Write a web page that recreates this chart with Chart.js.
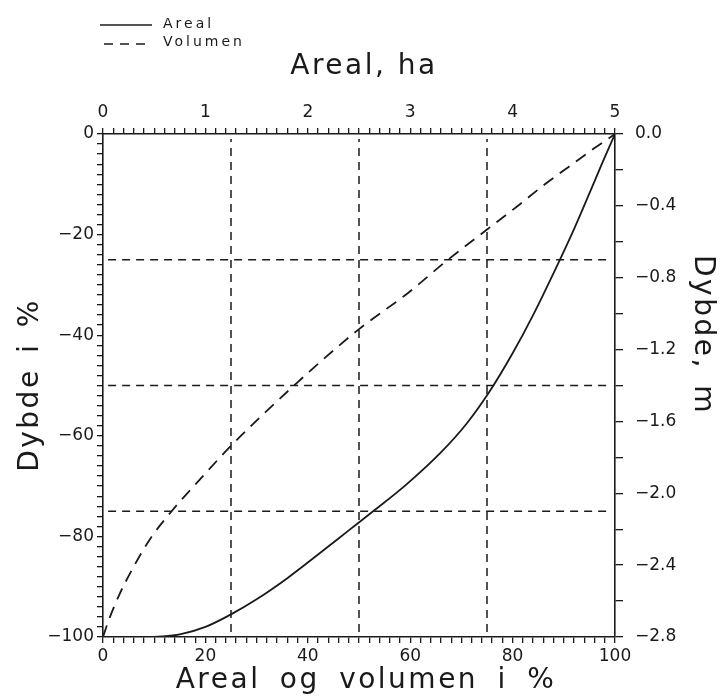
<!DOCTYPE html>
<html>
<head>
<meta charset="utf-8">
<script src="https://cdn.jsdelivr.net/npm/chart.js@4/dist/chart.umd.min.js"></script>
<style>
  body { margin: 0; background: #fff; }
  #wrap { width: 726px; height: 698px; }
</style>
</head>
<body>
<div id="wrap"><canvas id="chart" width="726" height="698"></canvas></div>
<script>
// ====== data ======
// Areal (solid) : % of area vs depth in %
const arealX = [10, 15, 20, 25, 30, 36, 42, 48, 53, 59, 66, 71, 75.5, 80, 84, 89, 92, 95, 97.5, 100];
const arealY = [-100, -99.5, -98, -95.5, -92.5, -88.3, -83.6, -78.8, -74.8, -69.9, -63.3, -57.6, -51.2, -43.6, -36, -25.5, -18.9, -11.8, -5.8, 0];

// Volumen (dashed)
const volumenX = [0, 1, 3, 6, 9.2, 13.4, 18.9, 25, 31, 37, 43, 50, 59.7, 67, 75, 81, 86.3, 91, 96, 100];
const volumenY = [-100, -97, -92, -86, -80.5, -75, -68.7, -62, -56, -50.3, -44.8, -38.8, -31.5, -25.3, -19, -14.3, -10, -6.5, -2.8, 0];

// dashed reference lines (percent)
const guideX = [25, 50, 75];
const guideY = [-25, -50, -75];

// labelled ticks
const pctLabels = [0, 20, 40, 60, 80, 100];
const haLabels = [0, 1, 2, 3, 4, 5];
const depthPctLabels = [0, -20, -40, -60, -80, -100];
const depthMLabels = [0, -0.4, -0.8, -1.2, -1.6, -2.0, -2.4, -2.8];

const INK = "#1a1a1a";
const FONT = "'DejaVu Sans', 'Liberation Sans', sans-serif";

function pairs(xs, ys) {
  return xs.map((x, i) => ({ x, y: ys[i] }));
}
function isIn(list, v) {
  return list.some((l) => Math.abs(l - v) < 1e-6);
}
function minus(s) {
  return String(s).replace("-", "\u2212");
}

// ====== datasets ======
const datasets = [
  {
    label: "Areal",
    data: pairs(arealX, arealY),
    borderColor: INK,
    borderWidth: 1.8,
    pointRadius: 0,
    cubicInterpolationMode: "monotone",
    fill: false,
  },
  {
    label: "Volumen",
    data: pairs(volumenX, volumenY),
    borderColor: INK,
    borderWidth: 1.8,
    borderDash: [12, 8],
    pointRadius: 0,
    cubicInterpolationMode: "monotone",
    fill: false,
  },
];
guideX.forEach((gx) => {
  datasets.push({
    label: "guide",
    data: [{ x: gx, y: -99 }, { x: gx, y: -1 }],
    borderColor: INK, borderWidth: 1.5, borderDash: [8, 6], pointRadius: 0,
  });
});
guideY.forEach((gy) => {
  datasets.push({
    label: "guide",
    data: [{ x: 1, y: gy }, { x: 99, y: gy }],
    borderColor: INK, borderWidth: 1.5, borderDash: [8, 6], pointRadius: 0,
  });
});

// ====== legend + axis titles (spaced lettering) ======
function spacedText(ctx, text, x, y, rot, size, spacing, wordGap) {
  ctx.save();
  ctx.translate(x, y);
  ctx.rotate(rot);
  ctx.font = size + "px " + FONT;
  ctx.letterSpacing = spacing + "px";
  ctx.wordSpacing = wordGap + "px";
  ctx.textAlign = "center";
  ctx.textBaseline = "middle";
  ctx.fillText(text, 0, 0);
  ctx.restore();
}

const extras = {
  id: "extras",
  afterDraw(chart) {
    const ctx = chart.ctx;
    ctx.save();
    ctx.strokeStyle = INK;
    ctx.fillStyle = INK;
    ctx.lineWidth = 1.5;
    ctx.beginPath();
    ctx.moveTo(100, 25);
    ctx.lineTo(152, 25);
    ctx.stroke();
    ctx.setLineDash([9, 7]);
    ctx.beginPath();
    ctx.moveTo(104, 44);
    ctx.lineTo(152, 44);
    ctx.stroke();
    ctx.setLineDash([]);
    ctx.font = "14px " + FONT;
    ctx.letterSpacing = "3px";
    ctx.textBaseline = "alphabetic";
    ctx.fillText("Areal", 163, 28);
    ctx.fillText("Volumen", 163, 46);
    ctx.restore();

    ctx.save();
    ctx.fillStyle = INK;
    spacedText(ctx, "Areal, ha", 364, 67, 0, 28, 2.5, 0);
    spacedText(ctx, "Areal og volumen i %", 366, 681, 0, 28, 2.5, 8);
    spacedText(ctx, "Dybde i %", 31, 385, -Math.PI / 2, 28, 2.5, 4);
    spacedText(ctx, "Dybde, m", 702, 335, Math.PI / 2, 28, 2.5, 4);
    ctx.restore();
  },
};

const tickGrid = (len) => ({
  drawOnChartArea: false,
  drawTicks: true,
  tickLength: len,
  color: INK,
  lineWidth: 1.3,
});
const border = { display: true, color: INK, width: 1.6 };
const tickFont = { family: FONT, size: 17 };

new Chart(document.getElementById("chart"), {
  type: "line",
  data: { datasets },
  options: {
    responsive: false,
    animation: false,
    devicePixelRatio: 1,
    layout: { padding: 0 },
    plugins: { legend: { display: false }, tooltip: { enabled: false } },
    scales: {
      x: {
        type: "linear", position: "bottom", min: 0, max: 100,
        grid: tickGrid(6), border,
        ticks: {
          stepSize: 2, autoSkip: false, maxRotation: 0, padding: 3,
          color: INK, font: tickFont,
          callback: (v) => (isIn(pctLabels, v) ? String(v) : ""),
        },
        afterFit: (s) => { s.height = 61; },
      },
      x2: {
        type: "linear", position: "top", min: 0, max: 5,
        grid: tickGrid(6), border,
        ticks: {
          stepSize: 0.1, autoSkip: false, maxRotation: 0, padding: 5,
          color: INK, font: tickFont,
          callback: (v) => (isIn(haLabels, v) ? String(Math.round(v)) : ""),
        },
        afterFit: (s) => { s.height = 134; },
      },
      y: {
        type: "linear", position: "left", min: -100, max: 0,
        grid: tickGrid(6), border,
        ticks: {
          stepSize: 2, autoSkip: false, padding: 3,
          color: INK, font: tickFont,
          callback: (v) => (isIn(depthPctLabels, v) ? minus(v) : ""),
        },
        afterFit: (s) => { s.width = 103; },
      },
      y2: {
        type: "linear", position: "right", min: -2.8, max: 0,
        grid: tickGrid(8), border,
        ticks: {
          stepSize: 0.2, autoSkip: false, padding: 12,
          color: INK, font: tickFont,
          callback: (v) => (isIn(depthMLabels, v) ? minus(Math.abs(v) < 1e-9 ? "0.0" : v.toFixed(1)) : ""),
        },
        afterFit: (s) => { s.width = 111; },
      },
    },
  },
  plugins: [extras],
});
</script>
</body>
</html>
